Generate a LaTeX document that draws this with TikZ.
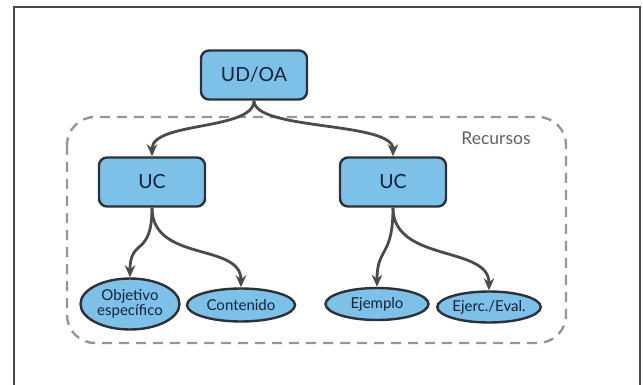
\documentclass[tikz,border=0pt]{standalone}
\usepackage{fontspec}
\setmainfont{Lato}
\usetikzlibrary{shapes.geometric,arrows.meta}
\definecolor{boxfill}{RGB}{125,192,232}
\definecolor{boxline}{RGB}{45,48,52}
\definecolor{arrowc}{RGB}{75,75,78}
\definecolor{dashc}{RGB}{150,150,150}
\definecolor{txtc}{RGB}{20,35,60}
\definecolor{framec}{RGB}{70,70,70}
\tikzset{
  rbox/.style={draw=boxline, line width=2.4pt, fill=boxfill, rounded corners=8pt,
    minimum width=106pt, minimum height=49pt, text=txtc, font=\fontsize{19.5}{21}\selectfont, inner sep=0pt},
  ell/.style={ellipse, draw=boxline, line width=2.4pt, fill=boxfill, text=txtc,
    font=\fontsize{15}{15.5}\selectfont, inner sep=0pt, align=center},
  conn/.style={draw=arrowc, line width=2.8pt, -{Stealth[length=12pt,width=10.5pt]}},
}
\begin{document}
\begin{tikzpicture}[x=1pt,y=-1pt]
\useasboundingbox (0,0) rectangle (643,385);
% frame
\draw[framec, line width=2pt] (14,385) -- (14,7) -- (640,7) -- (640,385);
% dashed resources area
\draw[dashc, line width=2.4pt, dash pattern=on 10pt off 7pt, rounded corners=28pt] (67,117) rectangle (566,343);
\node[text=black!62, font=\fontsize{17.5}{18}\selectfont, anchor=base] (rec) at (496,145) {Recursos};
% nodes
\node[rbox] (top) at (254,75) {UD/OA};
\node[rbox] (uc1) at (152,182) {UC};
\node[rbox] (uc2) at (393,182) {UC};
\node[ell, minimum width=99pt, minimum height=51pt] (obj) at (130,304) {Objetivo\\específico};
\node[ell, minimum width=108pt, minimum height=33pt] (con) at (241,305) {Contenido};
\node[ell, minimum width=103pt, minimum height=32pt] (eje) at (377,304) {Ejemplo};
\node[ell, minimum width=103pt, minimum height=31pt] (eva) at (489,307) {Ejerc./Eval.};
% connectors
\draw[conn] (top.south) .. controls ++(0,30) and ++(0,-35) .. (uc1.north);
\draw[conn] (top.south) .. controls ++(0,30) and ++(0,-35) .. (uc2.north);
\draw[conn] (uc1.south) .. controls ++(0,50) and ++(0,-40) .. (obj.north);
\draw[conn] (uc1.south) .. controls ++(0,55) and ++(0,-45) .. (con.north);
\draw[conn] (uc2.south) .. controls ++(0,50) and ++(0,-40) .. (eje.north);
\draw[conn] (uc2.south) .. controls ++(0,55) and ++(0,-45) .. (eva.north);
\end{tikzpicture}
\end{document}
